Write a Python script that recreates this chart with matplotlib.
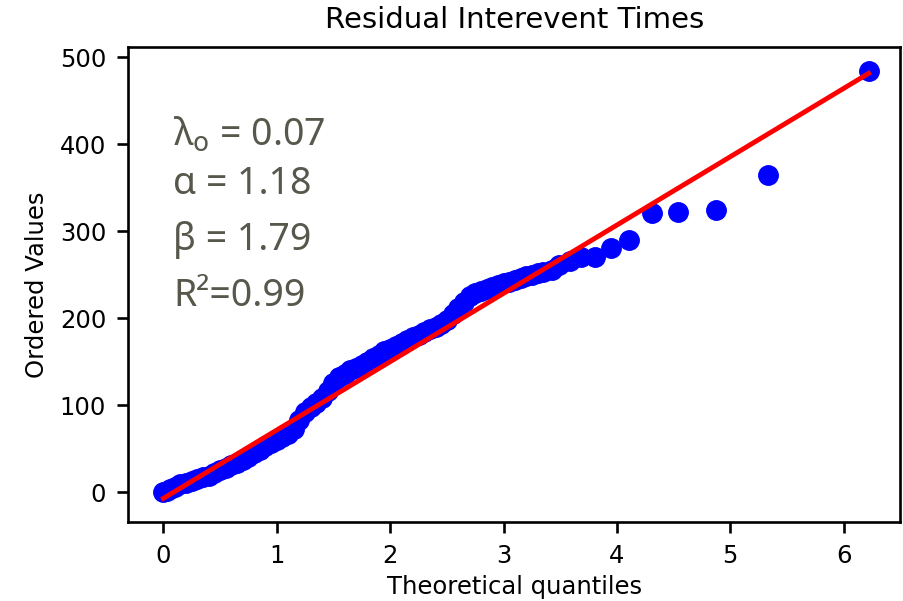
import numpy as np
import matplotlib
matplotlib.use("Agg")
from matplotlib import pyplot as plt

# points (theoretical quantile, ordered value)
quantiles = [0.0, 0.03, 0.06, 0.1, 0.15, 0.2, 0.25, 0.3, 0.35, 0.4, 0.45, 0.5,
             0.55, 0.6, 0.65, 0.7, 0.75, 0.8, 0.85, 0.9, 0.95, 1.0, 1.05, 1.1,
             1.15, 1.2, 1.25, 1.3, 1.35, 1.4, 1.45, 1.5, 1.55, 1.6, 1.65, 1.7,
             1.75, 1.8, 1.85, 1.9, 1.95, 2.0, 2.05, 2.1, 2.15, 2.2, 2.25, 2.3,
             2.35, 2.4, 2.45, 2.5, 2.55, 2.6, 2.65, 2.7, 2.75, 2.8, 2.85, 2.9,
             2.95, 3.0, 3.05, 3.1, 3.15, 3.2, 3.25, 3.3, 3.35, 3.43, 3.49, 3.59,
             3.68, 3.81, 3.95, 4.11, 4.31, 4.54, 4.87, 5.33, 6.22]
ordered = [0, 2, 4, 6, 9, 11, 13, 15, 17, 19, 22, 25,
           28, 31, 34, 37, 41, 45, 49, 53, 57, 60, 63, 67,
           73, 83, 92, 98, 103, 108, 116, 125, 132, 136, 140, 143,
           146, 150, 154, 158, 162, 165, 168, 171, 175, 178, 181, 184,
           187, 190, 193, 198, 205, 212, 219, 225, 229, 231, 234, 236,
           238, 240, 242, 244, 246, 248, 250, 252, 253, 255, 261, 266,
           270, 270, 281, 290, 321, 322, 324, 364, 484]

# fitted line
slope = 78.5
intercept = -7.0

stats = [r"λ$_\mathrm{o}$ = 0.07", "α = 1.18", "β = 1.79", "R²=0.99"]

x = np.array(quantiles)
y = np.array(ordered)

fig = plt.figure(figsize=(9.04, 6.01), dpi=100)
ax = fig.add_axes([0.142, 0.132, 0.854, 0.789])

ax.plot(x, y, "o", color="blue", markersize=14)
ax.plot(x[[0, -1]], slope * x[[0, -1]] + intercept, "-", color="red", linewidth=3.5)

ax.set_xlim(-0.309, 6.5)
ax.set_ylim(-33.8, 511)
ax.set_xticks(np.arange(0, 7))
ax.set_yticks(np.arange(0, 501, 100))

ax.tick_params(labelsize=17.5, length=8, width=1.9, pad=8)
for s in ax.spines.values():
    s.set_linewidth(1.9)

ax.set_title("Residual Interevent Times", fontsize=21, pad=14)
ax.set_xlabel("Theoretical quantiles", fontsize=17.5, labelpad=5)
ax.set_ylabel("Ordered Values", fontsize=17.5, labelpad=8)

# annotation block (pixel baselines converted to figure coords)
baselines = [145, 194, 250, 306]
for txt, b in zip(stats, baselines):
    fig.text(173 / 904, 1 - b / 601, txt, fontsize=27, color="#57574c",
             family=["Noto Sans", "DejaVu Sans"], va="baseline", ha="left")

plt.savefig("out.png", dpi=100)
